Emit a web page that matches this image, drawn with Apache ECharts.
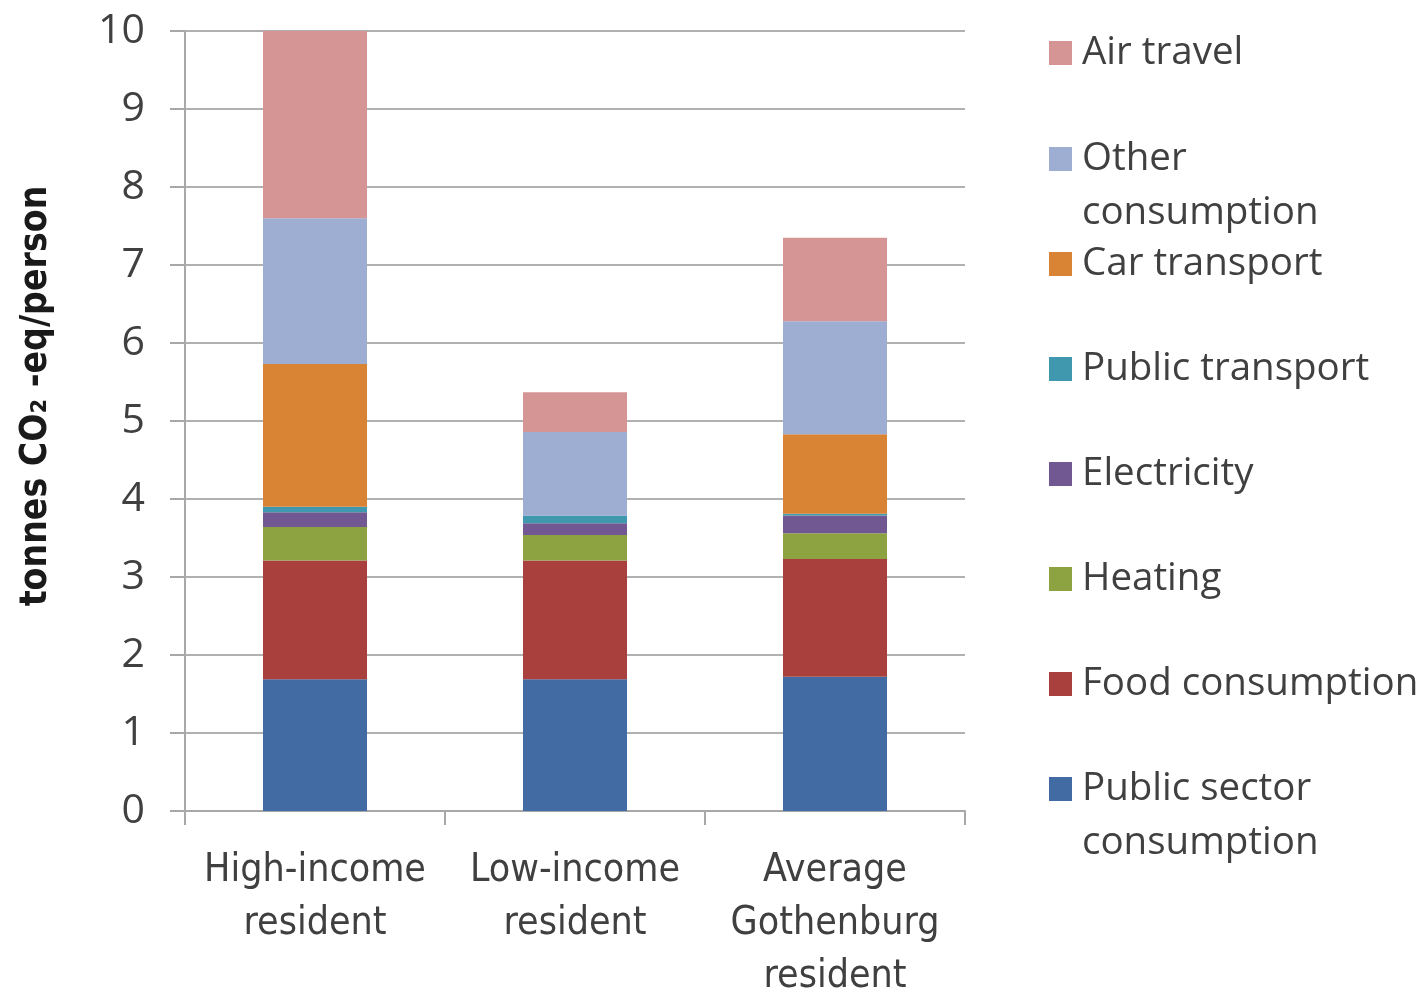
<!DOCTYPE html>
<html><head><meta charset="utf-8">
<script src="https://cdn.jsdelivr.net/npm/echarts@6/dist/echarts.min.js"></script>
<style>html,body{margin:0;padding:0;background:#fff}#c{width:1425px;height:995px}</style>
</head><body><div id="c"></div>
<script>
const categories = ['High-income\nresident', 'Low-income\nresident', 'Average\nGothenburg\nresident'];
const seriesNames = ['Public sector consumption','Food consumption','Heating','Electricity','Public transport','Car transport','Other consumption','Air travel'];
const publicSector = [1.69, 1.69, 1.72];
const food = [1.52, 1.52, 1.51];
const heating = [0.43, 0.33, 0.33];
const electricity = [0.19, 0.15, 0.23];
const publicTransport = [0.07, 0.10, 0.02];
const carTransport = [1.83, 0.00, 1.02];
const otherConsumption = [1.87, 1.07, 1.45];
const airTravel = [2.40, 0.51, 1.07];
const yTicks = [0,1,2,3,4,5,6,7,8,9,10];
const legendLabels = ['Air travel','Other','Car transport','Public transport','Electricity','Heating','Food consumption','Public sector'];
const legendSecondLines = ['', 'consumption', '', '', '', '', '', 'consumption'];

const colors = ['#416ba2','#a9403e','#8da342','#725892','#3f98ad','#d98335','#9eaed2','#d49594'];
const values = [publicSector, food, heating, electricity, publicTransport, carTransport, otherConsumption, airTravel];
const legendOrder = [7,6,5,4,3,2,1,0];
const legendCenters = [53,159,264,369,474,579,684,789];

const chart = echarts.init(document.getElementById('c'));
const txt = '#404040';
const condensed = '"DejaVu Sans Condensed", "Open Sans", sans-serif';
const legends = legendOrder.map((si, i) => ({
  data: [seriesNames[si]],
  left: 1049,
  top: legendCenters[i] - 23,
  padding: 0,
  itemWidth: 23, itemHeight: 24,
  icon: 'rect',
  selectedMode: false,
  formatter: () => legendLabels[i],
  textStyle: {fontFamily: 'Open Sans', fontSize: 38.5, color: txt, lineHeight: 46, padding: [0,0,0,5]}
}));
const graphics = [];
legendSecondLines.forEach((t, i) => {
  if (t) graphics.push({type: 'text', left: 1082, top: legendCenters[i] + 54 - 23,
    style: {text: t, font: '38.5px "Open Sans"', fill: txt, lineHeight: 46}});
});

chart.setOption({
  animation: false,
  backgroundColor: '#fff',
  grid: {left: 185, top: 31, right: 460, bottom: 184, containLabel: false, outerBoundsMode: 'none'},
  legend: legends,
  graphic: graphics,
  xAxis: {
    type: 'category', data: categories,
    axisLine: {lineStyle: {color: '#a8a8a8', width: 2}},
    axisTick: {show: true, length: 14, lineStyle: {color: '#a8a8a8', width: 2}},
    axisLabel: {interval: 0, fontFamily: condensed, fontSize: 39, color: txt, lineHeight: 53, margin: 33}
  },
  yAxis: {
    type: 'value', min: 0, max: 10, interval: 1,
    name: 'tonnes CO₂ -eq/person', nameLocation: 'middle', nameGap: 130, nameRotate: 90,
    nameTextStyle: {fontFamily: condensed, fontWeight: 'bold', fontSize: 37, color: '#1a1a1a', padding: [0,0,0,50]},
    axisLine: {show: true, lineStyle: {color: '#a8a8a8', width: 2}},
    axisTick: {show: true, length: 15, lineStyle: {color: '#a8a8a8', width: 2}},
    splitLine: {lineStyle: {color: '#b0b0b0', width: 2}},
    axisLabel: {fontFamily: 'Open Sans', fontSize: 41, color: txt, margin: 40,
      formatter: v => yTicks.includes(v) ? String(v) : ''}
  },
  series: seriesNames.map((n, i) => ({
    name: n, type: 'bar', stack: 'total', barWidth: '40%',
    itemStyle: {color: colors[i]},
    data: values[i]
  }))
});
</script></body></html>
